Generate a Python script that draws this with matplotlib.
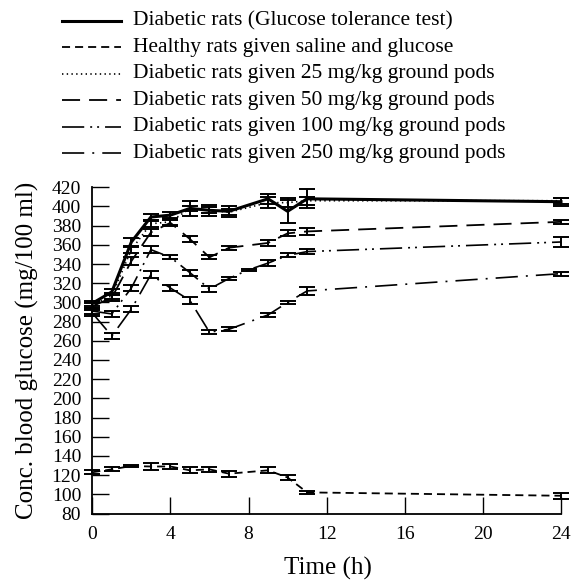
import matplotlib
matplotlib.use("Agg")
import matplotlib.pyplot as plt
from matplotlib.lines import Line2D

plt.rcParams['font.family'] = ['Liberation Serif', 'DejaVu Serif']
plt.rcParams['lines.scale_dashes'] = False

# ---------------- data ----------------
t_main = [0, 1, 2, 3, 4, 5, 6, 7, 9, 10, 11, 24]
t_100 = [0, 1, 2, 3, 4, 5, 6, 7, 8, 9, 10, 11, 24]

labels = [
    "Diabetic rats (Glucose tolerance test)",
    "Healthy rats given saline and glucose",
    "Diabetic rats given 25 mg/kg ground pods",
    "Diabetic rats given 50 mg/kg ground pods",
    "Diabetic rats given 100 mg/kg ground pods",
    "Diabetic rats given 250 mg/kg ground pods",
]

gtt = [299, 311, 363, 389, 391, 398, 396, 395, 408, 395, 408, 405]
gtt_err = [3, 3, 4, 3, 3, 8, 6, 6, 5, 12, 10, 4]

healthy = [123, 126, 129.5, 129, 129, 125, 126, 121.5, 125, 117.5, 102, 98.5]
healthy_err = [2, 2, 1.5, 4, 2.5, 3, 2.5, 3, 3, 3, 1.5, 3]

d25 = [297, 307, 355, 382, 384, 398, 396, 394, 404, 404, 406, 406]
d25_err = [3, 3, 3, 3, 3, 3, 3, 3, 6, 5, 4, 3]

d50 = [296, 305, 343, 373, 383, 366, 347, 357, 362, 372, 374, 384]
d50_err = [3, 3, 4, 4, 3, 3, 2, 2, 3, 3, 4, 2]

d100 = [291, 288, 315, 355, 347, 331, 314, 325, 334, 341, 349, 353, 363]
d100_err = [3, 3, 3, 4, 2, 3, 3, 2, 1, 3, 2, 3, 5]

d250 = [289, 265, 293, 329, 315, 302, 269, 272, 287, 300, 312, 330]
d250_err = [3, 3, 3, 4, 3, 4, 2, 2, 2, 2, 4, 2]

x_ticks = [0, 4, 8, 12, 16, 20, 24]
y_ticks = list(range(80, 421, 20))

# ---------------- styles ----------------
styles = [
    dict(lw=2.2, ls='-'),
    dict(lw=1.3, ls=(0, (5.8, 3.6))),
    dict(lw=1.2, ls=(0, (1.0, 2.4))),
    dict(lw=1.3, ls=(0, (13, 6.5))),
    dict(lw=1.2, ls=(0, (16, 4.3, 1.4, 3.6, 1.4, 4.3))),
    dict(lw=1.2, ls=(0, (16, 5.8, 1.4, 5.8))),
]

series = [
    (t_main, gtt, gtt_err),
    (t_main, healthy, healthy_err),
    (t_main, d25, d25_err),
    (t_main, d50, d50_err),
    (t_100, d100, d100_err),
    (t_main, d250, d250_err),
]

W, H = 573, 580
fig = plt.figure(figsize=(W / 100, H / 100), dpi=100)
ax = fig.add_axes([92.3 / W, 1 - 513.5 / H, (561 - 92.3) / W, (513.5 - 187.3) / H])

for (tx, ys, es), st in zip(series, styles):
    ax.errorbar(tx, ys, yerr=es, color='black', lw=st['lw'], ls=st['ls'],
                ecolor='black', elinewidth=1.4, capsize=5.5, capthick=1.4,
                clip_on=False, zorder=3)

ax.set_xlim(0, 24)
ax.set_ylim(80, 420)
ax.set_xticks(x_ticks)
ax.set_yticks(y_ticks)
ax.tick_params(direction='in', length=12, width=1.0, labelsize=14)
ax.tick_params(axis='y', pad=8)
ax.tick_params(axis='x', pad=9)
for s in ['top', 'right']:
    ax.spines[s].set_visible(False)
for s in ['left', 'bottom']:
    ax.spines[s].set_linewidth(1.3)

ax.set_ylabel("Conc. blood glucose (mg/100 ml)", fontsize=18, labelpad=9)
fig.text(328 / W, 1 - 568 / H, "Time (h)", fontsize=18, ha='center', va='center')

# legend (manual, above the plot)
row_y = [20.7, 47.2, 73.7, 100.2, 126.7, 153.2]
for lab, st, ry in zip(labels, styles, row_y):
    yy = 1 - ry / H
    fig.add_artist(Line2D([62 / W, 121 / W], [yy, yy], transform=fig.transFigure,
                          color='black', lw=st['lw'], ls=st['ls']))
    fig.text(133 / W, yy, lab, fontsize=15.5, va='center', ha='left')

fig.savefig("out.png", dpi=100)
